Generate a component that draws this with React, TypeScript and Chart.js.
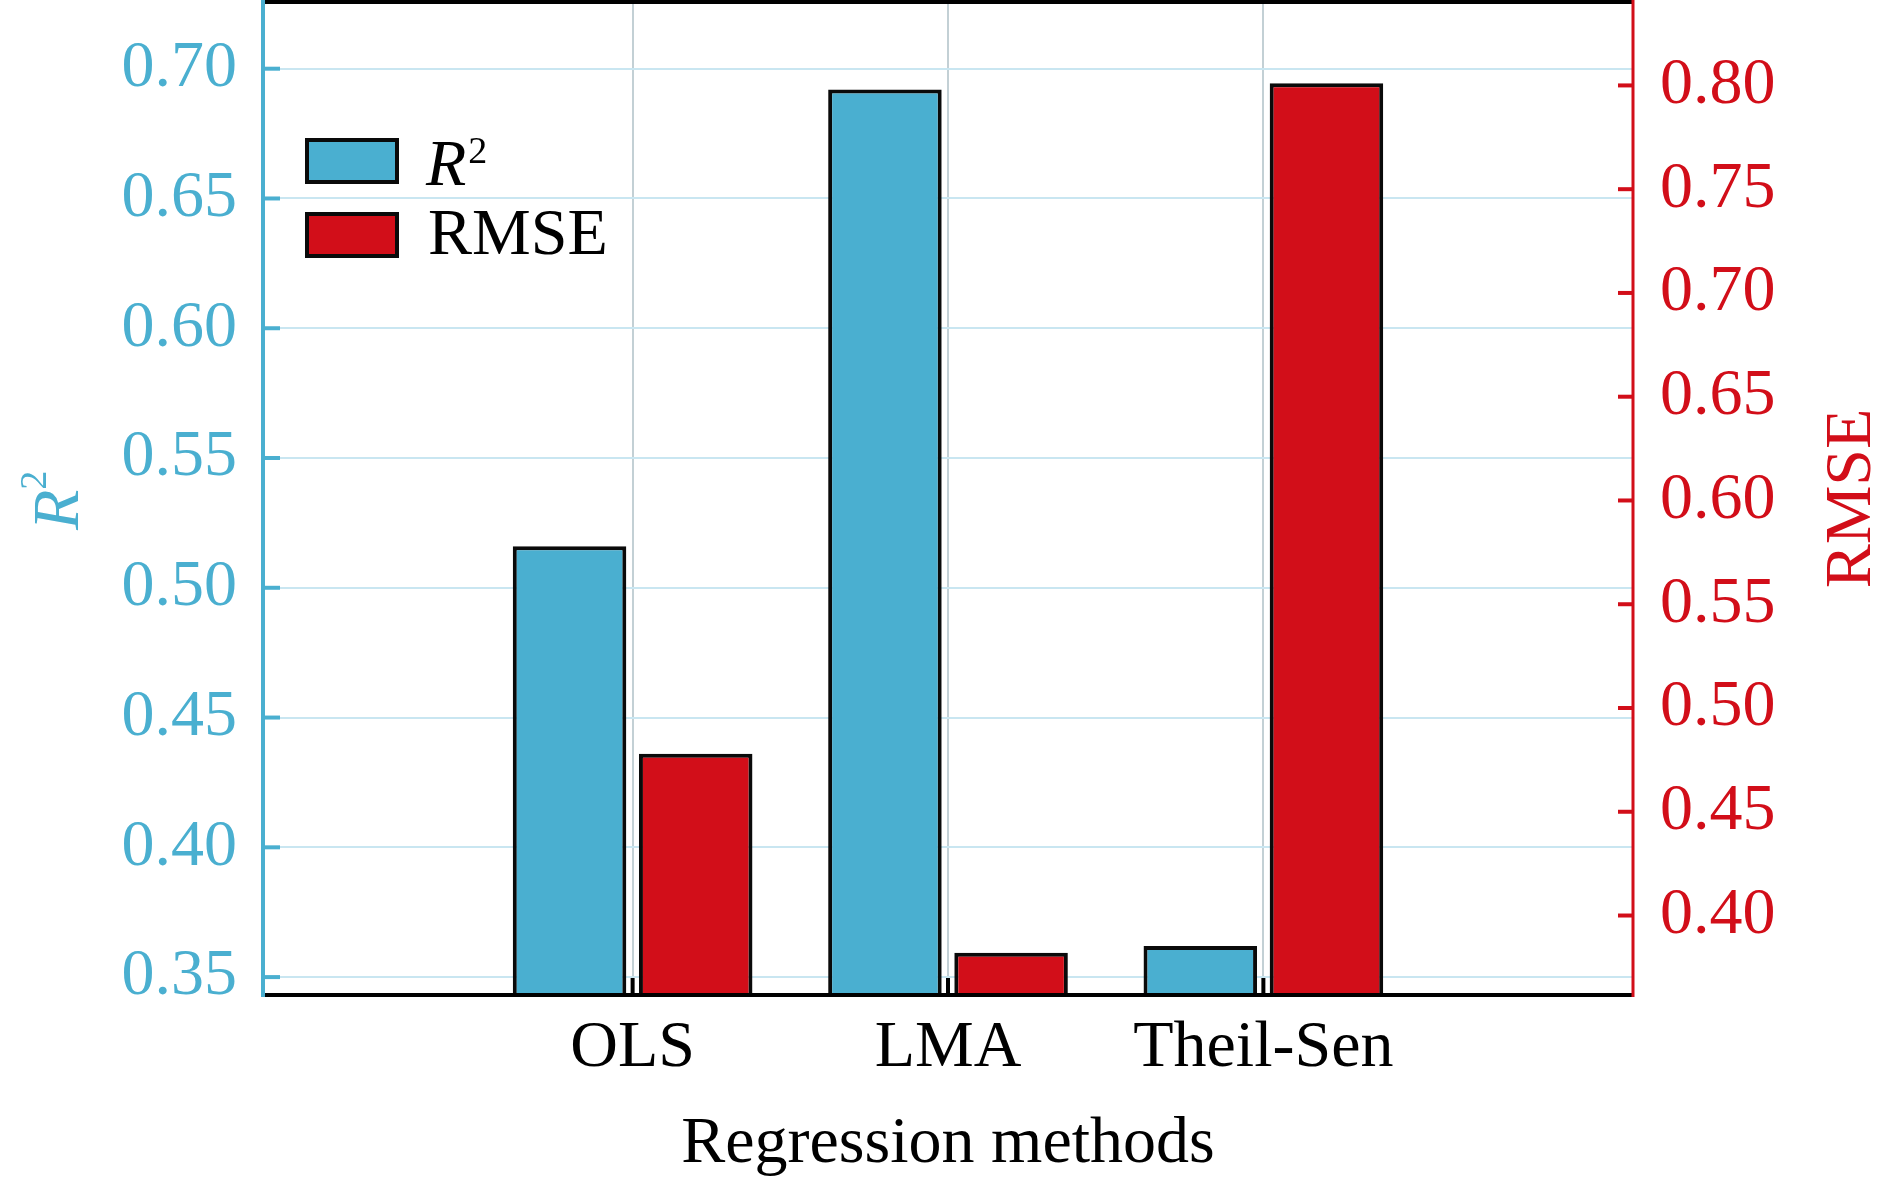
import React, { useEffect, useRef } from 'react';
import { Chart, registerables, Plugin } from 'chart.js';

Chart.register(...registerables);

const methods = ['OLS', 'LMA', 'Theil-Sen'];
const r2Values = [0.516, 0.692, 0.362];
const rmseValues = [0.478, 0.382, 0.801];
const r2Ticks = [0.35, 0.4, 0.45, 0.5, 0.55, 0.6, 0.65, 0.7];
const rmseTicks = [0.4, 0.45, 0.5, 0.55, 0.6, 0.65, 0.7, 0.75, 0.8];

const BLUE = '#4aafd0';
const RED = '#d20e19';
const FONT = "'Liberation Serif', 'Times New Roman', serif";

// axis lines, inward tick marks, top border
const framePlugin: Plugin<'bar'> = {
    id: 'frame',
    afterDatasetsDraw(chart) {
        const { ctx, chartArea, scales } = chart;
        const { left, right, top, bottom } = chartArea;
        const seg = (x1: number, y1: number, x2: number, y2: number) => {
            ctx.beginPath();
            ctx.moveTo(x1, y1);
            ctx.lineTo(x2, y2);
            ctx.stroke();
        };
        ctx.save();
        ctx.lineCap = 'butt';

        ctx.strokeStyle = '#000';
        ctx.lineWidth = 4;
        seg(left, top, right, top);
        seg(left, bottom, right, bottom);
        scales.x.ticks.forEach((t) => {
            const px = scales.x.getPixelForValue(t.value);
            seg(px, bottom, px, bottom - 17);
        });

        ctx.strokeStyle = BLUE;
        ctx.lineWidth = 4;
        seg(left, 0, left, bottom + 2);
        scales.y.ticks.forEach((t) => {
            const py = scales.y.getPixelForValue(t.value);
            seg(left, py, left + 17, py);
        });

        ctx.strokeStyle = RED;
        ctx.lineWidth = 3;
        seg(right, 0, right, bottom + 2);
        ctx.lineWidth = 4;
        scales.y1.ticks.forEach((t) => {
            const py = scales.y1.getPixelForValue(t.value);
            seg(right - 15, py, right, py);
        });
        ctx.restore();
    },
    afterDraw(chart) {
        const { ctx, chartArea } = chart;
        ctx.save();
        ctx.textBaseline = 'alphabetic';
        ctx.textAlign = 'left';

        // left title R^2 (rotated)
        ctx.fillStyle = BLUE;
        ctx.translate(78, 530);
        ctx.rotate(-Math.PI / 2);
        ctx.font = `italic 66px ${FONT}`;
        ctx.fillText('R', 0, 0);
        const rw = ctx.measureText('R').width;
        ctx.font = `38px ${FONT}`;
        ctx.fillText('2', rw, -32);
        ctx.setTransform(1, 0, 0, 1, 0, 0);

        // right title RMSE (rotated)
        const cy = (chartArea.top + chartArea.bottom) / 2;
        ctx.fillStyle = RED;
        ctx.translate(1870, cy);
        ctx.rotate(-Math.PI / 2);
        ctx.font = `66px ${FONT}`;
        ctx.textAlign = 'center';
        ctx.fillText('RMSE', 0, 0);
        ctx.setTransform(1, 0, 0, 1, 0, 0);

        // legend
        ctx.textAlign = 'left';
        const boxes = [
            { y: 138, fill: BLUE },
            { y: 212, fill: RED },
        ];
        boxes.forEach((b) => {
            ctx.fillStyle = b.fill;
            ctx.fillRect(305, b.y, 94, 46);
            ctx.strokeStyle = '#0a0a0a';
            ctx.lineWidth = 4;
            ctx.strokeRect(307, b.y + 2, 90, 42);
        });
        ctx.fillStyle = '#000';
        ctx.font = `italic 66px ${FONT}`;
        ctx.fillText('R', 426, 185);
        const lw = ctx.measureText('R').width;
        ctx.font = `38px ${FONT}`;
        ctx.fillText('2', 426 + lw + 2, 163);
        ctx.font = `66px ${FONT}`;
        ctx.fillText('RMSE', 428, 254);
        ctx.restore();
    },
};

const RegressionChart: React.FC = () => {
    const canvasRef = useRef<HTMLCanvasElement | null>(null);

    useEffect(() => {
        if (!canvasRef.current) return;
        const chart = new Chart(canvasRef.current, {
            type: 'bar',
            data: {
                datasets: [
                    {
                        label: 'R²',
                        data: r2Values.map((v, i) => ({ x: i + 1, y: v })),
                        backgroundColor: BLUE,
                        borderColor: '#0a0a0a',
                        borderWidth: 4,
                        yAxisID: 'y',
                        categoryPercentage: 0.8,
                        barPercentage: 0.9,
                    },
                    {
                        label: 'RMSE',
                        data: rmseValues.map((v, i) => ({ x: i + 1, y: v })),
                        backgroundColor: RED,
                        borderColor: '#0a0a0a',
                        borderWidth: 4,
                        yAxisID: 'y1',
                        categoryPercentage: 0.8,
                        barPercentage: 0.9,
                    },
                ],
            },
            options: {
                animation: false,
                responsive: true,
                maintainAspectRatio: false,
                devicePixelRatio: 1,
                layout: { padding: { top: 2, left: 0, right: 0, bottom: 0 } },
                plugins: {
                    legend: { display: false },
                    tooltip: { enabled: false },
                },
                scales: {
                    x: {
                        type: 'linear',
                        position: 'bottom',
                        offset: false,
                        min: -0.172,
                        max: 4.172,
                        afterBuildTicks: (scale) => {
                            scale.ticks = methods.map((_, i) => ({ value: i + 1 }));
                        },
                        afterFit: (scale) => {
                            scale.height = 187;
                            scale.paddingLeft = 0;
                            scale.paddingRight = 0;
                        },
                        ticks: {
                            callback: (v) => methods[Number(v) - 1] ?? '',
                            color: '#000',
                            font: { family: FONT, size: 66 },
                            padding: 14,
                            maxRotation: 0,
                            autoSkip: false,
                        },
                        grid: {
                            offset: false,
                            color: '#c3d0d5',
                            lineWidth: 2,
                            drawTicks: false,
                        },
                        border: { display: false },
                        title: {
                            display: true,
                            text: 'Regression methods',
                            color: '#000',
                            font: { family: FONT, size: 66, lineHeight: 1.08 },
                            padding: { top: 0, bottom: 2 },
                        },
                    },
                    y: {
                        type: 'linear',
                        position: 'left',
                        min: 0.3431,
                        max: 0.7257,
                        afterBuildTicks: (scale) => {
                            scale.ticks = r2Ticks.map((v) => ({ value: v }));
                        },
                        afterFit: (scale) => {
                            scale.width = 263;
                            scale.paddingTop = 0;
                            scale.paddingBottom = 0;
                        },
                        ticks: {
                            callback: (v) => Number(v).toFixed(2),
                            color: BLUE,
                            font: { family: FONT, size: 66 },
                            padding: 26,
                        },
                        grid: {
                            color: '#c9e6f1',
                            lineWidth: 2,
                            drawTicks: false,
                        },
                        border: { display: false },
                    },
                    y1: {
                        type: 'linear',
                        position: 'right',
                        min: 0.3617,
                        max: 0.8402,
                        afterBuildTicks: (scale) => {
                            scale.ticks = rmseTicks.map((v) => ({ value: v }));
                        },
                        afterFit: (scale) => {
                            scale.width = 257;
                            scale.paddingTop = 0;
                            scale.paddingBottom = 0;
                        },
                        ticks: {
                            callback: (v) => Number(v).toFixed(2),
                            color: RED,
                            font: { family: FONT, size: 66 },
                            padding: 27,
                        },
                        grid: { display: false, drawTicks: false },
                        border: { display: false },
                    },
                },
            },
            plugins: [framePlugin],
        });
        return () => {
            chart.destroy();
        };
    }, []);

    return <canvas ref={canvasRef} />;
};

const App: React.FC = () => (
    <div style={{ position: 'fixed', left: 0, top: 0, width: 1890, height: 1182, background: '#fff' }}>
        <RegressionChart />
    </div>
);

export default App;
